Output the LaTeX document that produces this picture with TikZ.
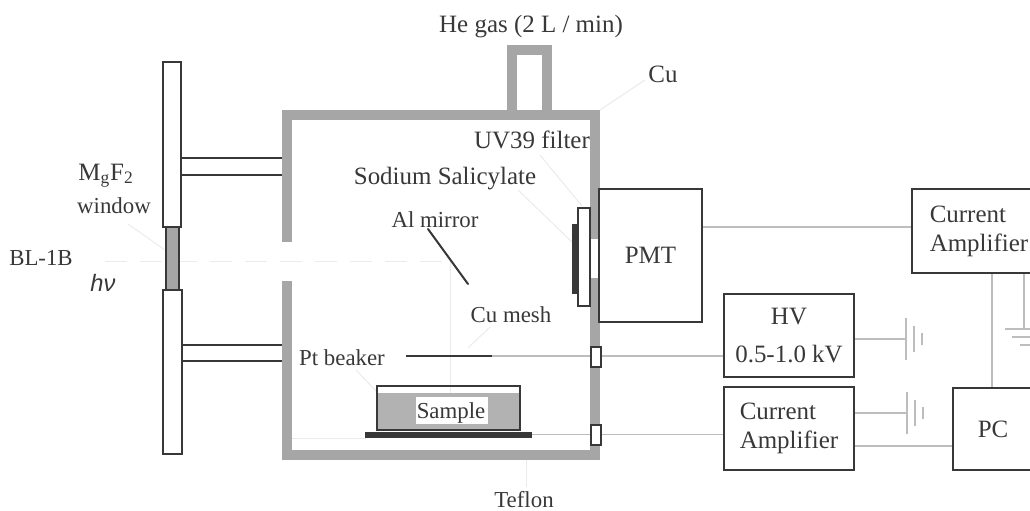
\documentclass[tikz,border=0pt]{standalone}
\usepackage{fontspec}
\setmainfont{Liberation Serif}
\newfontfamily\nufont{Liberation Sans}

\definecolor{inkgray}{gray}{0.22}
\definecolor{wallgray}{gray}{0.65}
\definecolor{samplegray}{gray}{0.7}
\definecolor{wiregray}{gray}{0.74}
\definecolor{faintgray}{gray}{0.92}

\tikzset{
	unit/.style = {draw = inkgray, line width = 0.4mm, inner sep = 0, align = left, font = \fontsize{14.2}{16.6}\selectfont},
	part/.style = {draw = inkgray, line width = 0.4mm, inner sep = 0},
	wall/.style = {draw = wallgray, line width = 2mm},
	wire/.style = {draw = wiregray, line width = 0.35mm},
	leader/.style = {draw = faintgray, line width = 0.2mm},
	tag/.style = {anchor = base, inner sep = 0, font = \fontsize{13}{15}\selectfont},
	bigtag/.style = {anchor = base, inner sep = 0, font = \fontsize{14.2}{16}\selectfont}
}

\begin{document}
\begin{tikzpicture}[x = 0.02cm, y = -0.02cm, text = inkgray]

	\useasboundingbox (0, 0) rectangle (1030, 510);

	\draw [leader, dash pattern = on 4.5mm off 2.5mm] (105, 261) -- (450, 261);
	\draw [leader] (450, 261) -- (450, 397);
	\draw [leader] (292, 438) -- (366, 438);
	\draw [leader] (128, 224) -- (165, 250);
	\draw [leader] (600, 110) -- (645, 80);
	\draw [leader] (540, 155) -- (582, 206);
	\draw [leader] (518, 190) -- (573, 243);
	\draw [leader] (468, 348) -- (490, 327);
	\draw [leader] (356, 370) -- (377, 392);
	\draw [leader] (526, 450) -- (526, 487);

	\draw [wall] (287, 242) -- (287, 115) -- (595, 115) -- (595, 239);
	\draw [wall] (595, 278) -- (595, 455) -- (287, 455) -- (287, 281);
	\draw [wall] (512, 110) -- (512, 50) -- (546.5, 50) -- (546.5, 110);

	\node [part, minimum width = 0.36cm, minimum height = 3.3cm] (flange up) at (172, 144.5) {};
	\node [part, minimum width = 0.38cm, minimum height = 3.28cm] (flange down) at (172.5, 372) {};
	\node [part, fill = wallgray, minimum width = 0.26cm, minimum height = 1.26cm] (MgF window) at (172.5, 258.5) {};
	\coordinate (wall left) at (282, 0);

	\draw [part] (flange up.east |- 0, 158) -- (wall left |- 0, 158);
	\draw [part] (flange up.east |- 0, 175) -- (wall left |- 0, 175);
	\draw [part] (flange down.east |- 0, 345) -- (wall left |- 0, 345);
	\draw [part] (flange down.east |- 0, 361) -- (wall left |- 0, 361);

	\node [part, fill = white, minimum width = 0.24cm, minimum height = 1.96cm] (filter) at (584, 257) {};
	\node [part, fill = inkgray, minimum width = 0.1cm, minimum height = 1.36cm] (salicylate) at (575.5, 259) {};
	\draw [part, line cap = round] (428, 229) -- (468, 284);

	\node [unit, minimum width = 2.06cm, minimum height = 2.66cm] (PMT) at (650.5, 255.5) {PMT};
	\node [unit, minimum width = 2.68cm, minimum height = 1.68cm] (amp top) at (979, 231) {Current\\Amplifier};
	\node [unit, minimum width = 2.6cm, minimum height = 1.66cm, align = center] (HV) at (789, 335.5) {HV\\[4.5pt]0.5-1.0 kV};
	\node [unit, minimum width = 2.6cm, minimum height = 1.66cm] (amp low) at (789, 428.5) {Current\\Amplifier};
	\node [unit, minimum width = 1.6cm, minimum height = 1.64cm] (PC) at (993, 429) {PC};

	\node [part, fill = white, minimum width = 0.2cm, minimum height = 0.4cm] (port up) at (595.5, 357) {};
	\node [part, fill = white, minimum width = 0.2cm, minimum height = 0.4cm] (port low) at (595.5, 434.5) {};

	\coordinate (mesh end) at (492, 356);
	\draw [part] (406, 356) -- (mesh end);

	\fill [samplegray] (377, 393) rectangle (520, 430);
	\node [part, minimum width = 2.86cm, minimum height = 0.88cm] (beaker) at (448.5, 408) {};
	\node [part, fill = inkgray, minimum width = 3.3cm, minimum height = 0.08cm] (teflon plate) at (448.5, 434.5) {};
	\node [fill = white, inner sep = 0, minimum width = 1.44cm, minimum height = 0.54cm] (sample box) at (452, 410.5) {};

	\begin{scope}[wire]

		\draw (mesh end) -- (port up.west |- mesh end);
		\draw (port up.east |- mesh end) -- (HV.west |- mesh end);
		\draw (teflon plate.east) -- (port low.west);
		\draw (port low.east) -- (amp low.west |- port low.east);
		\draw (PMT.east |- 0, 227) -- (amp top.west |- 0, 227);
		\draw (992, 0 |- amp top.south) -- (992, 0 |- PC.north);
		\draw (amp low.east |- 0, 446) -- (PC.west |- 0, 446);

	\end{scope}

	\coordinate (ground HV) at (906, 339);
	\coordinate (ground low) at (907, 413);
	\coordinate (ground top) at (1024, 329);

	\draw [wire] (HV.east |- ground HV) -- (ground HV);
	\draw [wire] (amp low.east |- ground low) -- (ground low);
	\draw [wire] (ground top |- amp top.south) -- (ground top);

	\foreach \gnd in {ground HV, ground low}
		\foreach \x / \h in {0 / 21, 8 / 13, 16 / 6}
			\draw [wire, line width = 0.25mm] ([xshift = \x * 0.02cm, yshift = \h * 0.02cm] \gnd) -- ([xshift = \x * 0.02cm, yshift = -\h * 0.02cm] \gnd);

	\foreach \y / \w in {0 / 19, 8 / 12, 16 / 4}
		\draw [wire, line width = 0.25mm] ([xshift = -\w * 0.02cm, yshift = -\y * 0.02cm] ground top) -- ([xshift = 6 * 0.02cm, yshift = -\y * 0.02cm] ground top);

	\node [bigtag] (He) at (531, 33) {He gas (2 L / min)};
	\node [bigtag] (Cu) at (663, 83) {Cu};
	\node [bigtag] (UV) at (532, 148) {UV39 filter};
	\node [bigtag] (Na) at (445, 184) {Sodium Salicylate};
	\node [tag] (Al) at (435, 227) {Al mirror};
	\node [tag] (mesh) at (511, 322) {Cu mesh};
	\node [tag] (Pt) at (342, 365) {Pt beaker};
	\node [tag] (sample) at (451, 418) {Sample};
	\node [tag] (Teflon) at (524, 507) {Teflon};
	\node [tag] (BL) at (41, 265) {BL-1B};
	\node [tag, font = \fontsize{13.5}{15}\nufont\itshape] (light) at (103, 291) {hν};
	\node [bigtag] (MgF) at (106, 180) {M\textsubscript{g}F\textsubscript{2}};
	\node [tag] (window) at (114, 213) {window};

\end{tikzpicture}
\end{document}
